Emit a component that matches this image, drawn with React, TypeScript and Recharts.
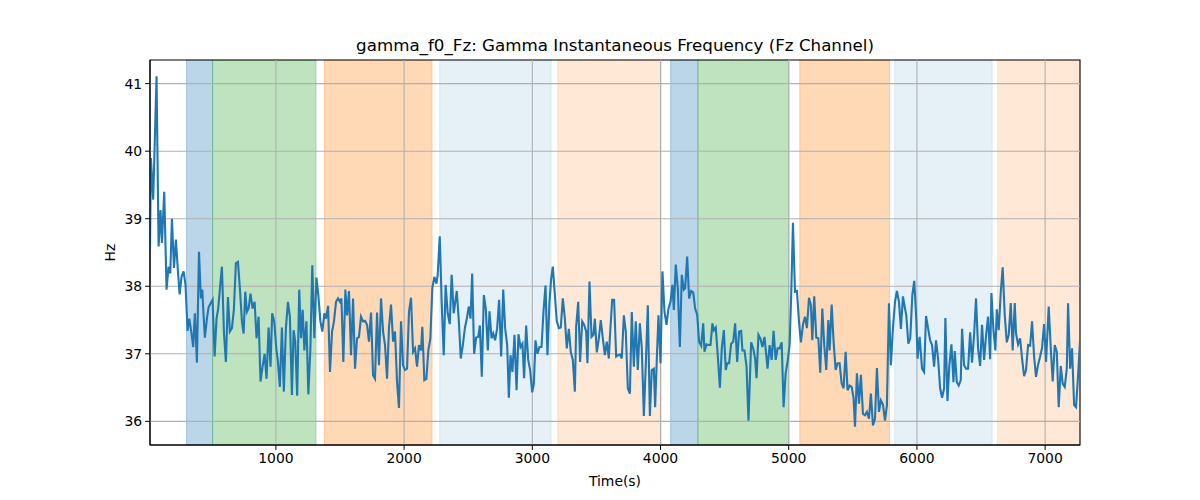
import React from "react";
import { LineChart, Line, XAxis, YAxis, ReferenceArea, ReferenceLine } from "recharts";

const timeS: number[] = [
  18, 25, 43, 69, 85, 100, 111, 129, 147, 163, 176, 189, 205, 220, 236, 249, 264, 280, 295, 311,
  324, 340, 355, 368, 384, 400, 415, 426, 433, 446, 462, 475, 491, 506, 522, 537, 550, 566, 579, 595,
  610, 626, 641, 657, 672, 688, 704, 719, 735, 748, 761, 774, 787, 802, 818, 834, 849, 865, 880, 896,
  912, 927, 943, 958, 971, 987, 1003, 1016, 1031, 1047, 1062, 1078, 1094, 1109, 1125, 1138, 1151, 1166, 1182,
  1196, 1209, 1222, 1238, 1253, 1269, 1284, 1300, 1316, 1331, 1347, 1362, 1378, 1391, 1407, 1422, 1438, 1453, 1469, 1485,
  1500, 1511, 1526, 1542, 1555, 1570, 1586, 1602, 1617, 1633, 1648, 1664, 1680, 1695, 1711, 1726, 1742, 1758, 1773, 1789,
  1804, 1820, 1836, 1851, 1867, 1882, 1898, 1914, 1929, 1945, 1960, 1976, 1992, 2007, 2023, 2038, 2054, 2070, 2085, 2101,
  2116, 2132, 2142, 2158, 2174, 2189, 2205, 2220, 2236, 2252, 2262, 2278, 2293, 2309, 2324, 2340, 2356, 2371, 2387,
  2411, 2427, 2442, 2458, 2474, 2489, 2505, 2518, 2531, 2546, 2562, 2578, 2591, 2606, 2622, 2637, 2653, 2666, 2682, 2695,
  2710, 2726, 2741, 2757, 2773, 2788, 2804, 2817, 2830, 2845, 2861, 2877, 2892, 2908, 2923, 2936, 2952, 2968, 2983, 2999,
  3012, 3025, 3040, 3056, 3072, 3087, 3103, 3118, 3134, 3147, 3160, 3176, 3191, 3207, 3222, 3238, 3254, 3269, 3285, 3300,
  3316, 3332, 3342, 3358, 3373, 3389, 3404, 3420, 3430, 3446, 3462, 3477, 3488, 3503, 3519, 3534, 3550, 3566, 3581, 3597,
  3605, 3623, 3638, 3654, 3670, 3685, 3698, 3714, 3729, 3745, 3761, 3776, 3792, 3807, 3823, 3839, 3854, 3870, 3885, 3901,
  3917, 3932, 3948, 3958, 3974, 3984, 4000, 4015, 4031, 4047, 4062, 4078, 4093, 4104, 4119, 4135, 4151, 4166, 4182, 4192,
  4208, 4223, 4239, 4255, 4270, 4286, 4301, 4317, 4333, 4343, 4359, 4374, 4390, 4405, 4416, 4431, 4447, 4463, 4478, 4494,
  4509, 4520, 4535, 4551, 4567, 4582, 4598, 4613, 4629, 4639, 4655, 4671, 4686, 4707, 4723, 4738, 4749, 4764, 4780, 4795, 4811,
  4835, 4851, 4867, 4882, 4898, 4913, 4929, 4945, 4960, 4976, 4991, 5007, 5020, 5033, 5049, 5064, 5080, 5095, 5111,
  5127, 5142, 5158, 5173, 5184, 5199, 5215, 5231, 5246, 5262, 5277, 5293, 5309, 5319, 5335, 5350, 5366, 5381, 5397, 5413,
  5428, 5444, 5459, 5475, 5491, 5506, 5517, 5532, 5548, 5563, 5579, 5595, 5610, 5626, 5641, 5657, 5673, 5688, 5704, 5719,
  5735, 5751, 5766, 5782, 5797, 5813, 5829, 5844, 5860, 5875, 5891, 5907, 5917, 5933, 5948, 5964, 5979, 5995, 6005, 6021,
  6040, 6056, 6071, 6087, 6103, 6118, 6134, 6149, 6165, 6181, 6196, 6212, 6222, 6238, 6253, 6269, 6285, 6295, 6311, 6326,
  6342, 6352, 6368, 6383, 6399, 6415, 6430, 6446, 6461, 6477, 6493, 6508, 6524, 6539, 6555, 6571, 6581, 6597, 6612, 6623,
  6638, 6654, 6669, 6685, 6701, 6716, 6732, 6747, 6763, 6773, 6789, 6805, 6820, 6836, 6851, 6867, 6883, 6898, 6914, 6929,
  6945, 6961, 6976, 6992, 7007, 7028, 7044, 7059, 7075, 7091, 7106, 7122, 7137, 7153, 7169, 7179, 7195, 7210, 7226, 7241,
  7257, 7272,
];

const gammaHz: number[] = [
  38.56, 39.9, 39.28, 41.11, 38.59, 39.13, 38.64, 39.4, 37.95, 38.29, 38.19, 39.0, 38.27, 38.69, 38.22, 37.88, 38.14, 38.22, 38.02, 37.34,
  37.52, 37.33, 37.1, 37.6, 36.87, 38.51, 37.82, 37.95, 37.67, 37.24, 37.52, 37.69, 37.75, 37.8, 36.96, 37.52, 37.67, 38.02, 38.29, 37.3,
  36.88, 37.84, 37.33, 37.38, 37.65, 38.34, 38.36, 37.97, 37.48, 37.3, 37.92, 37.62, 37.67, 37.89, 37.67, 37.77, 37.23, 37.55, 36.59, 36.81,
  37.0, 36.63, 37.39, 36.81, 37.6, 37.48, 37.08, 36.88, 36.51, 37.39, 36.44, 37.38, 37.77, 37.55, 36.39, 37.35, 37.18, 36.38, 37.95,
  37.23, 37.65, 37.05, 37.48, 36.4, 37.08, 38.31, 37.23, 38.13, 37.87, 37.48, 37.33, 37.6, 37.52, 37.71, 36.73, 37.33, 37.48, 37.77, 37.82,
  37.77, 37.82, 36.88, 37.95, 37.57, 37.93, 36.98, 37.82, 36.78, 37.23, 37.25, 37.55, 37.48, 37.49, 37.43, 37.18, 37.61, 36.68, 36.63, 37.61,
  36.83, 37.82, 37.33, 37.13, 36.63, 37.38, 37.73, 37.18, 37.33, 36.58, 36.2, 37.48, 36.83, 36.76, 36.78, 37.62, 37.83, 37.03, 37.08, 36.81,
  37.13, 37.05, 37.4, 36.61, 36.63, 37.05, 37.23, 37.97, 38.14, 38.04, 38.17, 38.74, 37.77, 36.98, 38.02, 37.6, 37.44, 38.17, 37.6,
  37.93, 37.48, 36.93, 37.13, 37.38, 37.52, 37.7, 37.52, 38.19, 37.0, 37.24, 37.25, 37.42, 36.66, 37.87, 37.67, 37.05, 37.63, 37.23, 37.3,
  37.2, 37.38, 37.8, 36.96, 37.95, 37.38, 37.13, 36.35, 36.98, 36.73, 37.28, 36.46, 37.29, 37.1, 37.15, 36.64, 37.42, 36.91, 36.76, 36.43,
  36.56, 37.2, 37.0, 37.1, 37.1, 37.62, 38.01, 36.98, 37.77, 38.11, 38.29, 37.87, 37.48, 37.38, 37.39, 37.82, 37.52, 37.08, 37.37, 37.03,
  36.91, 36.44, 37.4, 37.77, 36.88, 37.48, 37.43, 37.33, 36.86, 38.07, 37.25, 37.28, 37.52, 37.02, 37.23, 37.5, 37.23, 36.98, 37.18, 36.93,
  37.25, 37.8, 37.8, 36.96, 36.98, 36.99, 36.93, 37.57, 37.33, 36.49, 36.41, 37.62, 36.81, 37.48, 36.76, 37.45, 37.08, 36.08, 36.83, 37.72,
  36.08, 36.76, 36.78, 36.21, 37.08, 37.57, 36.86, 38.22, 37.62, 37.43, 37.67, 37.77, 38.02, 37.65, 38.32, 37.97, 37.1, 38.17, 37.95, 37.97,
  38.44, 37.82, 37.93, 37.91, 37.67, 37.58, 37.18, 37.12, 37.45, 37.03, 37.14, 37.13, 37.13, 37.45, 37.35, 37.39, 36.96, 36.5, 37.08, 37.35,
  36.76, 36.86, 36.86, 37.15, 37.18, 37.45, 36.88, 37.33, 37.34, 37.05, 37.05, 36.81, 36.01, 37.17, 37.08, 36.93, 36.64, 37.28, 37.22, 37.1, 37.25,
  36.78, 37.13, 36.91, 37.34, 36.91, 37.08, 37.08, 37.17, 36.21, 36.71, 36.88, 37.13, 37.92, 38.94, 37.92, 37.93, 37.48, 37.17, 37.43,
  37.55, 37.38, 37.83, 37.72, 37.2, 37.85, 37.24, 37.23, 36.72, 37.67, 37.13, 36.76, 37.5, 37.05, 37.73, 37.18, 36.76, 36.86, 36.86, 36.56,
  36.49, 37.03, 36.46, 36.53, 36.51, 36.34, 35.92, 36.71, 36.26, 36.69, 36.11, 36.09, 36.14, 36.04, 36.41, 35.94, 36.04, 36.79, 36.14, 36.31,
  36.25, 36.01, 36.24, 37.75, 36.83, 37.38, 37.77, 37.93, 37.77, 37.37, 37.85, 37.67, 37.57, 37.15, 37.23, 37.87, 38.08, 37.52, 36.93, 37.25,
  36.78, 36.73, 37.56, 37.38, 37.2, 37.13, 36.81, 37.2, 36.93, 36.49, 36.35, 36.49, 37.53, 36.3, 36.83, 37.14, 36.58, 37.04, 36.58, 36.53,
  36.61, 37.37, 36.83, 36.78, 36.78, 37.32, 36.87, 37.29, 37.82, 37.08, 36.82, 37.43, 36.91, 37.27, 37.55, 36.92, 37.9, 37.35, 37.05, 37.66,
  37.35, 37.91, 38.28, 37.57, 37.17, 37.28, 37.75, 37.05, 37.75, 37.3, 37.14, 37.23, 36.93, 36.67, 36.76, 37.13, 37.12, 37.48, 36.96, 36.66,
  36.84, 36.96, 37.09, 37.44, 36.88, 37.7, 37.08, 36.59, 37.13, 37.03, 36.21, 36.82, 36.56, 36.51, 36.78, 37.75, 36.78, 37.08, 36.24, 36.21,
  36.68, 37.19,
];

const xTicks = [1000, 2000, 3000, 4000, 5000, 6000, 7000];
const yTicks = [36, 37, 38, 39, 40, 41];

const spanStart = [303, 506, 1378, 2278, 3199, 4079, 4292, 5086, 5827, 6629];
const spanEnd = [506, 1313, 2218, 3147, 4006, 4292, 5002, 5786, 6587, 7272];
const spanColor = ["#1f77b4", "#2ca02c", "#ff7f0e", "#1f77b4", "#ff7f0e", "#1f77b4", "#2ca02c", "#ff7f0e", "#1f77b4", "#ff7f0e"];
const spanAlpha = [0.3, 0.3, 0.3, 0.11, 0.17, 0.3, 0.3, 0.3, 0.11, 0.17];

const X_MIN = 18;
const X_MAX = 7272;
const Y_MIN = 35.65;
const Y_MAX = 41.35;

const data = timeS.map((t, i) => ({ t, v: gammaHz[i] }));

const FONT = "DejaVu Sans, sans-serif";

export default function App() {
  return (
    <div style={{ position: "absolute", left: 0, top: 0, width: 1200, height: 500, background: "#fff" }}>
      <div
        style={{
          position: "absolute",
          left: 150,
          width: 930,
          top: 35,
          textAlign: "center",
          fontFamily: FONT,
          fontSize: 16.7,
          lineHeight: "20px",
          color: "#000",
        }}
      >
        gamma_f0_Fz: Gamma Instantaneous Frequency (Fz Channel)
      </div>
      <LineChart
        width={1200}
        height={500}
        data={data}
        margin={{ top: 60, right: 120, bottom: 5, left: 90 }}
      >
        {spanStart.map((s, i) => (
          <ReferenceArea
            key={"s" + i}
            x1={s}
            x2={spanEnd[i]}
            y1={Y_MIN}
            y2={Y_MAX}
            fill={spanColor[i]}
            fillOpacity={spanAlpha[i]}
            stroke={spanColor[i]}
            strokeOpacity={spanAlpha[i]}
            strokeWidth={1}
          />
        ))}
        {xTicks.map((t) => (
          <ReferenceLine key={"gx" + t} x={t} stroke="#b0b0b0" strokeWidth={1.1} />
        ))}
        {yTicks.map((t) => (
          <ReferenceLine key={"gy" + t} y={t} stroke="#b0b0b0" strokeWidth={1.1} />
        ))}
        <XAxis
          type="number"
          dataKey="t"
          domain={[X_MIN, X_MAX]}
          ticks={xTicks}
          allowDataOverflow
          height={50}
          stroke="#000"
          tickSize={4.9}
          tickMargin={3}
          tick={{ fill: "#000", fontSize: 13.9, fontFamily: FONT }}
          label={{ value: "Time(s)", position: "insideBottom", offset: 9, fill: "#000", fontSize: 13.9, fontFamily: FONT }}
        />
        <YAxis
          type="number"
          domain={[Y_MIN, Y_MAX]}
          ticks={yTicks}
          allowDataOverflow
          width={60}
          stroke="#000"
          tickSize={4.9}
          tickMargin={3}
          tick={{ fill: "#000", fontSize: 13.9, fontFamily: FONT }}
          label={{ value: "Hz", angle: -90, position: "center", dx: -10, fill: "#000", fontSize: 13.9, fontFamily: FONT }}
        />
        <Line
          type="linear"
          dataKey="v"
          stroke="#1f77b4"
          strokeWidth={2.1}
          dot={false}
          isAnimationActive={false}
        />
        <ReferenceArea
          x1={X_MIN}
          x2={X_MAX}
          y1={Y_MIN}
          y2={Y_MAX}
          fill="none"
          stroke="#000"
          strokeWidth={1.1}
        />
      </LineChart>
    </div>
  );
}
